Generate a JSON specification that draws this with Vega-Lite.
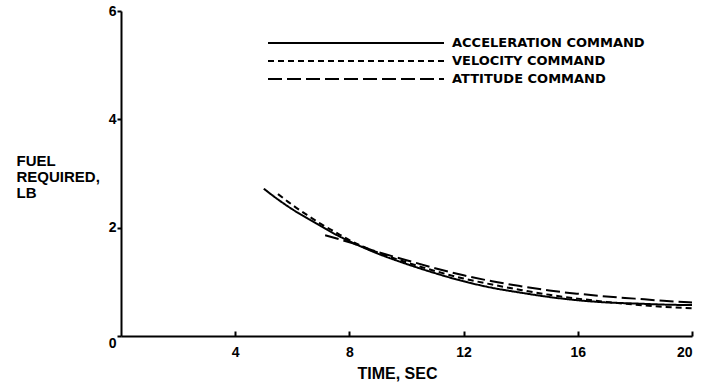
{
  "$schema": "https://vega.github.io/schema/vega-lite/v6.json",
  "autosize": "none",
  "width": 571,
  "height": 325,
  "padding": {"left": 121, "top": 11, "right": 12, "bottom": 53},
  "background": "white",
  "config": {
    "view": {"stroke": null},
    "font": "Liberation Sans",
    "axis": {
      "domainColor": "black",
      "domainWidth": 2,
      "tickColor": "black",
      "tickWidth": 2,
      "labelColor": "black",
      "titleColor": "black",
      "labelFont": "Liberation Sans",
      "titleFont": "Liberation Sans",
      "labelFontWeight": "bold",
      "titleFontWeight": "bold",
      "grid": false
    },
    "legend": {
      "labelFont": "DejaVu Sans",
      "labelFontWeight": "bold",
      "labelColor": "black"
    }
  },
  "data": {
    "values": [
      {"series": "ACCELERATION  COMMAND", "t": 5.0, "fuel": 2.72},
      {"series": "ACCELERATION  COMMAND", "t": 5.5, "fuel": 2.52},
      {"series": "ACCELERATION  COMMAND", "t": 6.0, "fuel": 2.34},
      {"series": "ACCELERATION  COMMAND", "t": 6.5, "fuel": 2.18},
      {"series": "ACCELERATION  COMMAND", "t": 7.0, "fuel": 2.03},
      {"series": "ACCELERATION  COMMAND", "t": 7.5, "fuel": 1.88},
      {"series": "ACCELERATION  COMMAND", "t": 8.0, "fuel": 1.75},
      {"series": "ACCELERATION  COMMAND", "t": 9.0, "fuel": 1.52},
      {"series": "ACCELERATION  COMMAND", "t": 10.0, "fuel": 1.33},
      {"series": "ACCELERATION  COMMAND", "t": 11.0, "fuel": 1.16},
      {"series": "ACCELERATION  COMMAND", "t": 12.0, "fuel": 1.01},
      {"series": "ACCELERATION  COMMAND", "t": 13.0, "fuel": 0.89},
      {"series": "ACCELERATION  COMMAND", "t": 14.0, "fuel": 0.8},
      {"series": "ACCELERATION  COMMAND", "t": 15.0, "fuel": 0.72},
      {"series": "ACCELERATION  COMMAND", "t": 16.0, "fuel": 0.66},
      {"series": "ACCELERATION  COMMAND", "t": 17.0, "fuel": 0.62},
      {"series": "ACCELERATION  COMMAND", "t": 18.0, "fuel": 0.6},
      {"series": "ACCELERATION  COMMAND", "t": 19.0, "fuel": 0.58},
      {"series": "ACCELERATION  COMMAND", "t": 20.0, "fuel": 0.57},
      {"series": "VELOCITY  COMMAND", "t": 5.5, "fuel": 2.62},
      {"series": "VELOCITY  COMMAND", "t": 6.0, "fuel": 2.42},
      {"series": "VELOCITY  COMMAND", "t": 6.5, "fuel": 2.24},
      {"series": "VELOCITY  COMMAND", "t": 7.0, "fuel": 2.07},
      {"series": "VELOCITY  COMMAND", "t": 7.5, "fuel": 1.92},
      {"series": "VELOCITY  COMMAND", "t": 8.0, "fuel": 1.77},
      {"series": "VELOCITY  COMMAND", "t": 9.0, "fuel": 1.54},
      {"series": "VELOCITY  COMMAND", "t": 10.0, "fuel": 1.36},
      {"series": "VELOCITY  COMMAND", "t": 11.0, "fuel": 1.2},
      {"series": "VELOCITY  COMMAND", "t": 12.0, "fuel": 1.06},
      {"series": "VELOCITY  COMMAND", "t": 13.0, "fuel": 0.95},
      {"series": "VELOCITY  COMMAND", "t": 14.0, "fuel": 0.85},
      {"series": "VELOCITY  COMMAND", "t": 15.0, "fuel": 0.76},
      {"series": "VELOCITY  COMMAND", "t": 16.0, "fuel": 0.69},
      {"series": "VELOCITY  COMMAND", "t": 17.0, "fuel": 0.63},
      {"series": "VELOCITY  COMMAND", "t": 18.0, "fuel": 0.58},
      {"series": "VELOCITY  COMMAND", "t": 19.0, "fuel": 0.54},
      {"series": "VELOCITY  COMMAND", "t": 20.0, "fuel": 0.51},
      {"series": "ATTITUDE  COMMAND", "t": 7.15, "fuel": 1.86},
      {"series": "ATTITUDE  COMMAND", "t": 8.0, "fuel": 1.73},
      {"series": "ATTITUDE  COMMAND", "t": 9.0, "fuel": 1.55},
      {"series": "ATTITUDE  COMMAND", "t": 10.0, "fuel": 1.4},
      {"series": "ATTITUDE  COMMAND", "t": 11.0, "fuel": 1.25},
      {"series": "ATTITUDE  COMMAND", "t": 12.0, "fuel": 1.12},
      {"series": "ATTITUDE  COMMAND", "t": 13.0, "fuel": 1.01},
      {"series": "ATTITUDE  COMMAND", "t": 14.0, "fuel": 0.92},
      {"series": "ATTITUDE  COMMAND", "t": 15.0, "fuel": 0.84},
      {"series": "ATTITUDE  COMMAND", "t": 16.0, "fuel": 0.78},
      {"series": "ATTITUDE  COMMAND", "t": 17.0, "fuel": 0.73},
      {"series": "ATTITUDE  COMMAND", "t": 18.0, "fuel": 0.69},
      {"series": "ATTITUDE  COMMAND", "t": 19.0, "fuel": 0.65},
      {"series": "ATTITUDE  COMMAND", "t": 20.0, "fuel": 0.62}
    ]
  },
  "mark": {"type": "line", "color": "black", "strokeWidth": 2, "interpolate": "monotone"},
  "encoding": {
    "x": {
      "field": "t",
      "type": "quantitative",
      "scale": {"domain": [0, 20], "nice": false, "zero": true},
      "axis": {
        "title": "TIME, SEC",
        "values": [4, 8, 12, 16, 20],
        "tickSize": -5,
        "labelPadding": 14,
        "labelFontSize": 14,
        "titleFontSize": 16,
        "titlePadding": 6,
        "titleX": 276
      }
    },
    "y": {
      "field": "fuel",
      "type": "quantitative",
      "scale": {"domain": [0, 6], "nice": false},
      "axis": {
        "title": ["FUEL", "REQUIRED,", "LB"],
        "values": [0, 2, 4, 6],
        "tickSize": 4,
        "labelPadding": 1,
        "labelFontSize": 14,
        "labelBaseline": {"condition": {"test": "datum.value === 0", "value": "top"}, "value": "middle"},
        "titleFontSize": 15,
        "titleAngle": 0,
        "titleAlign": "left",
        "titleBaseline": "middle",
        "titleLineHeight": 16,
        "titleX": -105,
        "titleY": 149
      }
    },
    "strokeDash": {
      "field": "series",
      "type": "nominal",
      "scale": {
        "domain": ["ACCELERATION  COMMAND", "VELOCITY  COMMAND", "ATTITUDE  COMMAND"],
        "range": [[1, 0], [6, 4], [14, 5]]
      },
      "legend": {
        "title": null,
        "orient": "none",
        "legendX": 226,
        "legendY": 23,
        "padding": 0,
        "symbolType": "M-11,0H11",
        "symbolSize": 256,
        "symbolStrokeColor": "black",
        "symbolFillColor": "transparent",
        "symbolStrokeWidth": 2,
        "labelFontSize": 13,
        "labelOffset": 87,
        "labelLimit": 400,
        "rowPadding": 2
      }
    }
  }
}
